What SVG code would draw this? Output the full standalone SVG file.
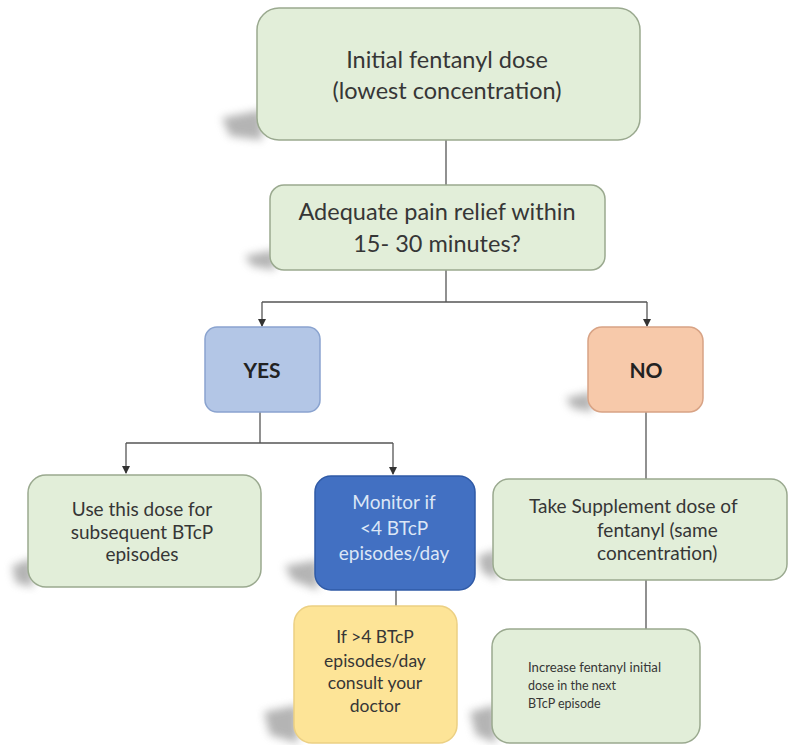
<svg xmlns="http://www.w3.org/2000/svg" width="790" height="745" viewBox="0 0 790 745">
<defs>
<filter id="blur" x="-50%" y="-50%" width="200%" height="200%"><feGaussianBlur stdDeviation="4"/></filter>
<marker id="arr" markerWidth="8" markerHeight="8" refX="7" refY="4" orient="auto" markerUnits="userSpaceOnUse" viewBox="0 0 8 8">
<path d="M0,0 L8,4 L0,8 Z" fill="#333"/>
</marker>
</defs>
<style>
.sh{fill:#777;opacity:0.55;filter:url(#blur)}
.green{fill:#e2eed9;stroke:#9aa98f;stroke-width:1.5}
.blue{fill:#b3c6e6;stroke:#8aa3cf;stroke-width:1.5}
.dblue{fill:#4270c2;stroke:#2f5aa6;stroke-width:1.5}
.orange{fill:#f7c9aa;stroke:#d8a385;stroke-width:1.5}
.yellow{fill:#fde497;stroke:#ecd083;stroke-width:1.5}
text{font-family:Lato,"Liberation Sans",sans-serif;fill:#363636;text-anchor:middle}
.big{font-size:23.5px}
.mid{font-size:19px}
.ylw{font-size:17.5px}
.wt{fill:#dce6f6}
.b{font-weight:bold;font-size:21px;fill:#222}
.small{font-size:12.5px;text-anchor:start}
.lft{text-anchor:start}
.conn{fill:none;stroke:#555;stroke-width:1.3}
</style>
<g id="connectors">
<path class="conn" d="M446,140 V185"/>
<path class="conn" d="M446,270 V302"/>
<path class="conn" d="M262,302 H647"/>
<path class="conn" d="M262,302 V326" marker-end="url(#arr)"/>
<path class="conn" d="M647,302 V326" marker-end="url(#arr)"/>
<path class="conn" d="M260,412 V443"/>
<path class="conn" d="M126,443 H393"/>
<path class="conn" d="M126,443 V473" marker-end="url(#arr)"/>
<path class="conn" d="M393,443 V474" marker-end="url(#arr)"/>
<path class="conn" d="M646,412 V479"/>
<path class="conn" d="M396,590 V606"/>
<path class="conn" d="M646,580 V629"/>
</g>
<g id="n-initial">
<path class="sh" d="M262,110 L222,118 L230,136 L262,140 Z"/>
<rect class="green" x="257" y="8" width="383" height="132" rx="22"/>
<text class="big" x="447" y="68">Initial fentanyl dose</text>
<text class="big" x="447" y="99">(lowest concentration)</text>
</g>
<g id="n-adequate">
<path class="sh" d="M275,250 L245,256 L252,266 L275,270 Z"/>
<rect class="green" x="270" y="185" width="335" height="85" rx="14"/>
<text class="big" x="437" y="220">Adequate pain relief within</text>
<text class="big" x="437" y="252">15- 30 minutes?</text>
</g>
<g id="n-yes">
<rect class="blue" x="205" y="327" width="115" height="85" rx="12"/>
<text class="b" x="262" y="378">YES</text>
</g>
<g id="n-no">
<path class="sh" d="M592,392 L566,398 L572,408 L592,412 Z"/>
<rect class="orange" x="588" y="327" width="115" height="85" rx="14"/>
<text class="b" x="646" y="378">NO</text>
</g>
<g id="n-use">
<path class="sh" d="M33,558 L12,566 L16,583 L33,587 Z"/>
<rect class="green" x="28" y="475" width="233" height="112" rx="18"/>
<text class="mid" x="142" y="516">Use this dose for</text>
<text class="mid" x="142" y="539">subsequent BTcP</text>
<text class="mid" x="142" y="561">episodes</text>
</g>
<g id="n-monitor">
<path class="sh" d="M318,560 L285,566 L292,580 L318,590 Z"/>
<rect class="dblue" x="315" y="476" width="160" height="114" rx="16"/>
<text class="mid wt" x="394" y="509">Monitor if</text>
<text class="mid wt" x="394" y="535">&lt;4 BTcP</text>
<text class="mid wt" x="394" y="560">episodes/day</text>
</g>
<g id="n-supplement">
<path class="sh" d="M497,550 L478,556 L482,572 L497,580 Z"/>
<rect class="green" x="493" y="479" width="294" height="101" rx="16"/>
<text class="mid lft" x="529" y="513">Take Supplement dose of</text>
<text class="mid lft" x="597" y="537">fentanyl (same</text>
<text class="mid lft" x="597" y="560">concentration)</text>
</g>
<g id="n-doctor">
<path class="sh" d="M298,705 L264,712 L270,735 L298,743 Z"/>
<rect class="yellow" x="294" y="606" width="163" height="137" rx="18"/>
<text class="ylw" x="375" y="643">If &gt;4 BTcP</text>
<text class="ylw" x="375" y="667">episodes/day</text>
<text class="ylw" x="375" y="689">consult your</text>
<text class="ylw" x="375" y="712">doctor</text>
</g>
<g id="n-increase">
<path class="sh" d="M496,705 L470,712 L476,735 L496,743 Z"/>
<rect class="green" x="492" y="629" width="208" height="114" rx="18"/>
<text class="small" x="528" y="672" textLength="133" lengthAdjust="spacingAndGlyphs">Increase fentanyl initial</text>
<text class="small" x="528" y="690">dose in the next</text>
<text class="small" x="528" y="708">BTcP episode</text>
</g>
</svg>
